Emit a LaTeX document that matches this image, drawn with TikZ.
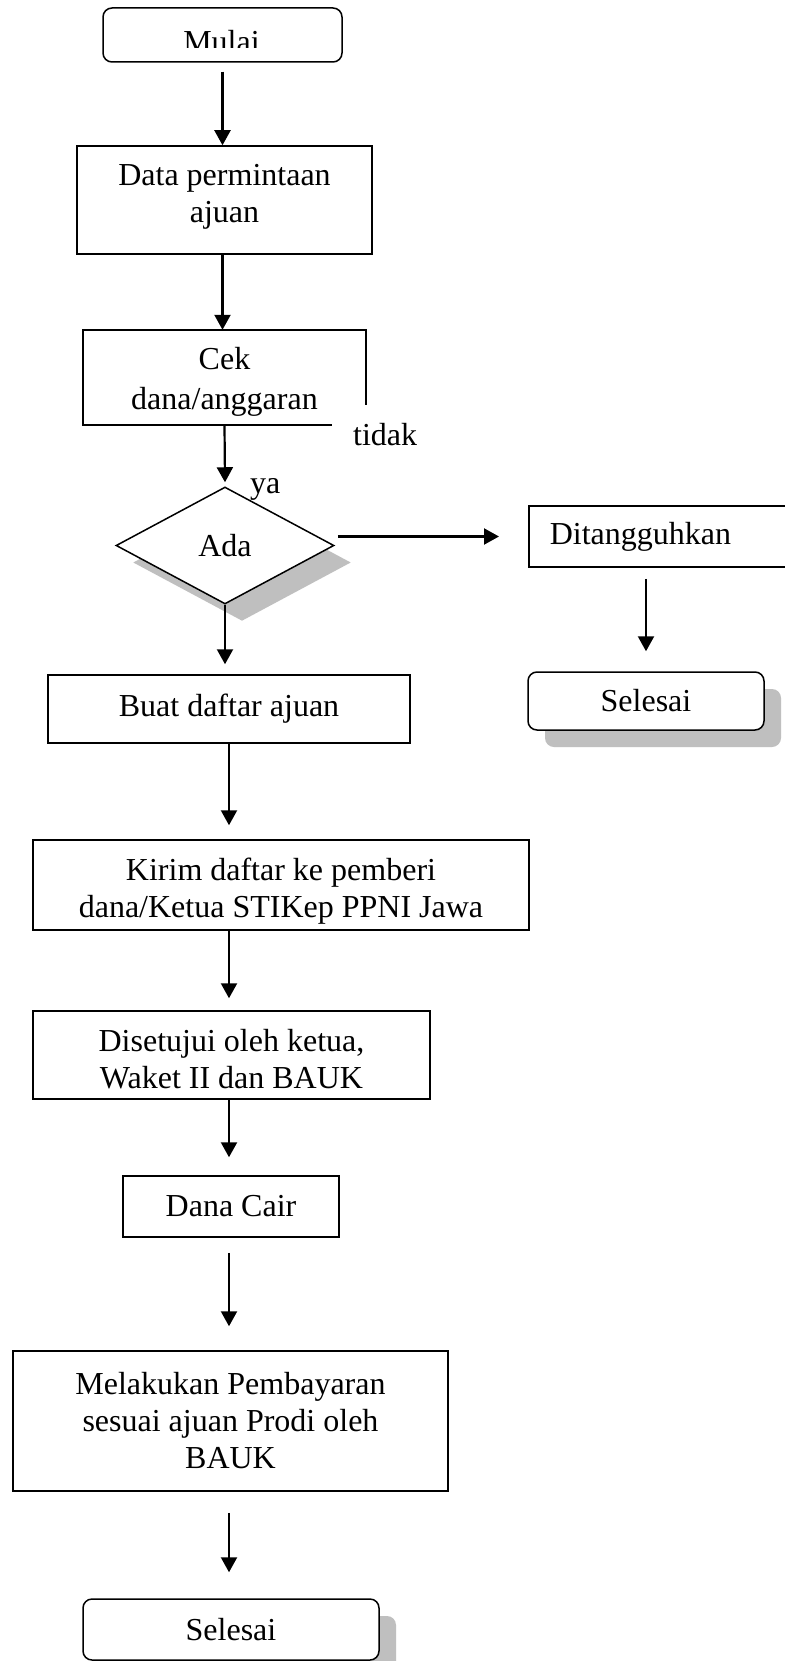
\documentclass[tikz,border=0pt]{standalone}
\usepackage{fontspec}
\setmainfont{Liberation Serif}
\usetikzlibrary{arrows.meta,shapes.geometric,shadows,calc}
\definecolor{shadowgray}{RGB}{191,191,191}
\begin{document}
\begin{tikzpicture}[x=1pt,y=-1pt,
  every node/.style={font=\fontsize{32pt}{37pt}\selectfont, inner sep=0pt},
  box/.style={draw, line width=1.5pt, fill=white, rectangle, align=center},
  term/.style={box, rounded corners=9pt},
  decision/.style={draw, line width=1.5pt, fill=white, diamond},
  shade/.style={drop shadow={shadow xshift=17pt, shadow yshift=-17pt, fill=shadowgray, opacity=1}},
  flow/.style={line width=2.2pt, -{Triangle[length=15pt,width=16pt]}},
]
\fill[white] (0,0) rectangle (784,1661);
\useasboundingbox (0,0) rectangle (784,1661);

% start terminal; its label is cut off by the lower edge of the text area
\node[term, minimum width=239pt, minimum height=54pt] (mulai) at (222.5,35) {};
\begin{scope}
  \clip (mulai.north west) rectangle ($(mulai.south east)+(0,-15)$);
  \node[anchor=base] (mulaitext) at ($(mulai.south)+(-1,-10)$) {Mulai};
\end{scope}

% main column
\node[box, minimum width=295pt, minimum height=108pt] (data) at (224.5,200) {Data permintaan\\ajuan\rule[-13pt]{0pt}{0pt}};
\node[align=center, minimum width=283pt, minimum height=95pt] (cek) at (224.5,377.5) {\rule{0pt}{30pt}Cek\\[3pt]dana/anggaran};
\draw[line width=1.5pt] ($(cek.north east)+(0,75)$) -- (cek.north east) -- (cek.north west) -- (cek.south west) -- ($(cek.south west)+(249,0)$);
\node[decision, shade, minimum width=218pt, minimum height=117pt] (dia) at (225,545.5) {Ada};
\node[box, minimum width=362pt, minimum height=68pt] (buat) at (229,709) {Buat daftar ajuan};
\node[box, minimum width=496pt, minimum height=90pt] (kirim) at (281,885) {\rule{0pt}{33.9pt}Kirim daftar ke pemberi\\dana/Ketua STIKep PPNI Jawa};
\node[box, minimum width=397pt, minimum height=88pt] (setuju) at (231.5,1055) {\rule{0pt}{30pt}Disetujui oleh ketua,\\Waket II dan BAUK};
\node[box, minimum width=216pt, minimum height=61pt] (dana) at (231,1206.5) {Dana Cair};
\node[box, minimum width=435pt, minimum height=140pt] (bayar) at (230.5,1421) {Melakukan Pembayaran\\sesuai ajuan Prodi oleh\\BAUK};
\node[term, shade, minimum width=296pt, minimum height=61pt] (sel3) at (231,1629.5) {\raisebox{-2.6pt}{Selesai}};

% branch for the "tidak" answer
\node[box, anchor=west, minimum width=272pt, minimum height=61pt, inner xsep=21pt, text width=230pt, align=left] (dit) at (528,536.5) {\raisebox{-4pt}{Ditangguhkan}};
\node[term, shade, minimum width=236pt, minimum height=58pt] (sel2) at (646,701) {\raisebox{-4pt}{Selesai}};

% answer labels
\node[anchor=base west] (tidak) at (353,445) {tidak};
\node[anchor=base west] (ya) at (250,493) {ya};

% connectors
\coordinate (axis) at (229,0);
\draw[flow] ($(mulai.south)+(0,9)$) -- (data.north -| mulai.south);
\draw[flow] (data.south -| mulai.south) -- (cek.north -| mulai.south);
\draw[flow] (cek.south) -- ($(dia.north)+(0,-4)$);
\draw[flow] ($(dia.east |- dit.west)+(3,0)$) -- ($(dit.west)+(-29,0)$);
\draw[flow] ($(dit.south -| sel2.north)+(0,11)$) -- ($(sel2.north)+(0,-20)$);
\draw[flow] (dia.south) -- ($(buat.north -| dia.south)+(0,-10)$);
\draw[flow] (buat.south -| axis) -- ($(kirim.north -| axis)+(0,-14)$);
\draw[flow] (kirim.south -| axis) -- ($(setuju.north -| axis)+(0,-12)$);
\draw[flow] (setuju.south -| axis) -- ($(dana.north -| axis)+(0,-18)$);
\draw[flow] ($(dana.south -| axis)+(0,15)$) -- ($(bayar.north -| axis)+(0,-24)$);
\draw[flow] ($(bayar.south -| axis)+(0,21)$) -- ($(sel3.north -| axis)+(0,-26)$);
\end{tikzpicture}
\end{document}
